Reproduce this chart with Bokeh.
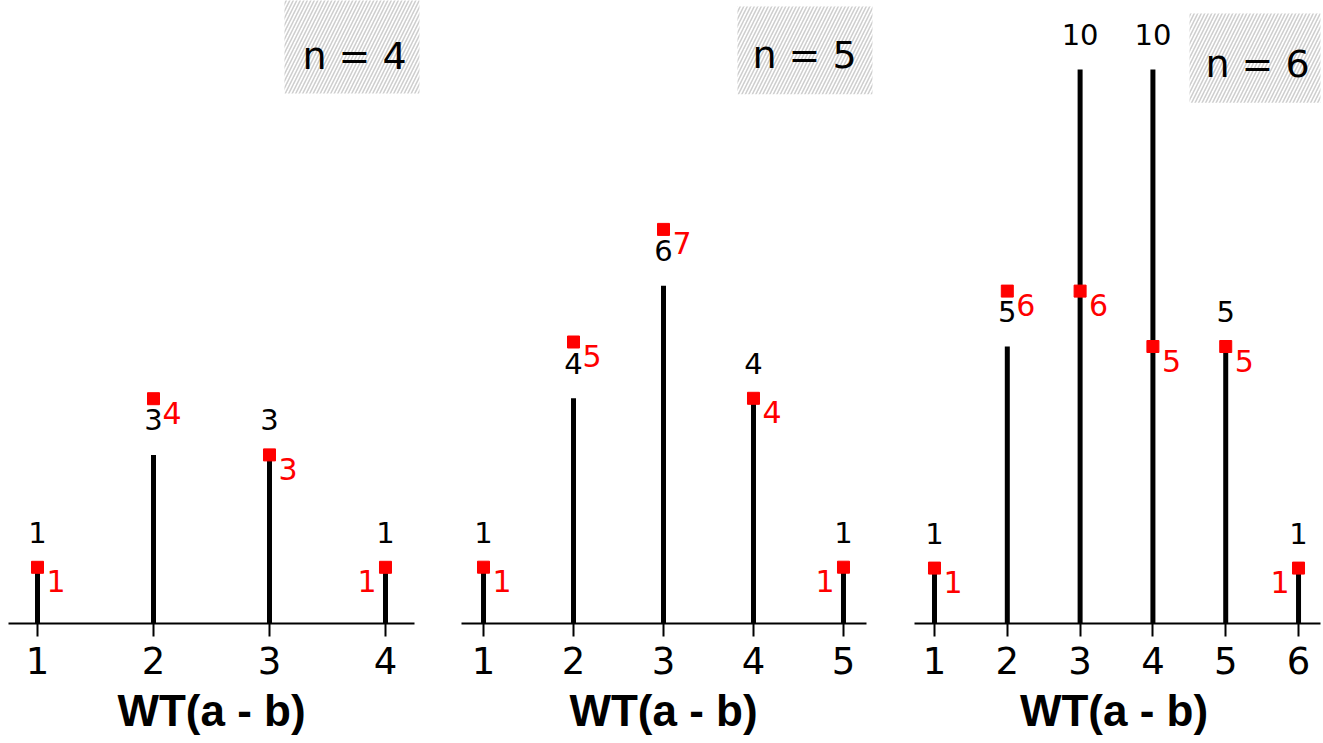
from bokeh.plotting import figure
from bokeh.layouts import row
from bokeh.models import FixedTicker, BoxAnnotation, Label, ColumnDataSource, Range1d
from bokeh.embed import file_html
from bokeh.resources import INLINE
from bokeh.core.properties import value

# ---------------- data ----------------
titles = ["n = 4", "n = 5", "n = 6"]
x_label = "WT(a - b)"

wt_4 = [1, 2, 3, 4]
count_4 = [1, 3, 3, 1]
marker_4 = [1, 4, 3, 1]

wt_5 = [1, 2, 3, 4, 5]
count_5 = [1, 4, 6, 4, 1]
marker_5 = [1, 5, 7, 4, 1]

wt_6 = [1, 2, 3, 4, 5, 6]
count_6 = [1, 5, 10, 10, 5, 1]
marker_6 = [1, 6, 6, 5, 5, 1]

series = [(wt_4, count_4, marker_4), (wt_5, count_5, marker_5), (wt_6, count_6, marker_6)]

# ---------------- layout ----------------
FRAME_H = 623
layout = [
    dict(fw=422, xr=(0.681, 4.319), yend=FRAME_H / 56.2, bounds=(0.75, 4.25),
         box=(3.129, 4.293, 9.43, 11.2), tpos=(3.733, 10.1)),
    dict(fw=482, xr=(0.322, 5.678), yend=FRAME_H / 56.3, bounds=(0.75, 5.26),
         box=(3.822, 5.322, 9.40, 10.96), tpos=(4.567, 10.1)),
    dict(fw=419, xr=(0.588, 6.343), yend=FRAME_H / 55.4, bounds=(0.725, 6.30),
         box=(4.503, 6.302, 9.40, 11.01), tpos=(5.437, 10.1)),
]

NUM_FONT = "DejaVu Sans"
RED = "#ff0000"

figs = []
for (wt, cnt, mk), title, lay in zip(series, titles, layout):
    p = figure(frame_width=lay["fw"], frame_height=FRAME_H,
               x_range=Range1d(*lay["xr"]), y_range=Range1d(0, lay["yend"]),
               output_backend="svg", toolbar_location=None, y_axis_location=None,
               min_border_left=0, min_border_right=0, min_border_top=0,
               min_border_bottom=0)
    p.grid.visible = False
    p.outline_line_color = None
    p.background_fill_color = "white"

    last = max(wt)
    src = ColumnDataSource(dict(
        x=wt, count=cnt, marker=mk,
        ctext=[str(c) for c in cnt],
        mtext=[str(m) for m in mk],
        align=["right" if w == last else "left" for w in wt],
        xoff=[-9 if w == last else 9 for w in wt],
    ))

    p.segment(x0="x", y0=0, x1="x", y1="count", source=src,
              line_width=5, line_color="black", line_cap="butt")
    p.text(x="x", y="count", text="ctext", source=src,
           text_align="center", text_baseline="middle", y_offset=-35,
           text_font=value(NUM_FONT), text_font_size="29px", text_color="black")
    p.scatter(x="x", y="marker", source=src, marker="square", size=12,
              fill_color=RED, line_color=RED, line_width=1)
    p.text(x="x", y="marker", text="mtext", source=src,
           text_align="align", x_offset="xoff", y_offset=14, text_baseline="middle",
           text_font=value(NUM_FONT), text_font_size="30px", text_color=RED)

    bl, br, bb, bt = lay["box"]
    box = BoxAnnotation(left=bl, right=br, bottom=bb, top=bt,
                        fill_color="white", fill_alpha=1.0, line_color=None,
                        hatch_pattern="/", hatch_color="#cfcfcf", hatch_weight=1.6,
                        hatch_scale=7)
    p.add_layout(box)
    p.add_layout(Label(x=lay["tpos"][0], y=lay["tpos"][1], text=title,
                       text_align="center", text_baseline="middle",
                       text_font=NUM_FONT, text_font_size="38px", text_color="black"))

    ax = p.xaxis[0]
    ax.ticker = FixedTicker(ticks=wt)
    ax.bounds = lay["bounds"]
    ax.axis_line_width = 2
    ax.axis_line_color = "black"
    ax.major_tick_line_width = 2
    ax.major_tick_line_color = "black"
    ax.major_tick_out = 13
    ax.major_tick_in = 0
    ax.minor_tick_line_color = None
    ax.major_label_text_font = NUM_FONT
    ax.major_label_text_font_size = "37px"
    ax.major_label_text_color = "black"
    ax.major_label_standoff = 10
    ax.axis_label = x_label
    ax.axis_label_text_font = "Liberation Sans"
    ax.axis_label_text_font_style = "bold"
    ax.axis_label_text_font_size = "44px"
    ax.axis_label_text_color = "black"
    ax.axis_label_standoff = 9
    figs.append(p)

layout_row = row(*figs, spacing=0)
open("out.html", "w").write(file_html(layout_row, INLINE))
